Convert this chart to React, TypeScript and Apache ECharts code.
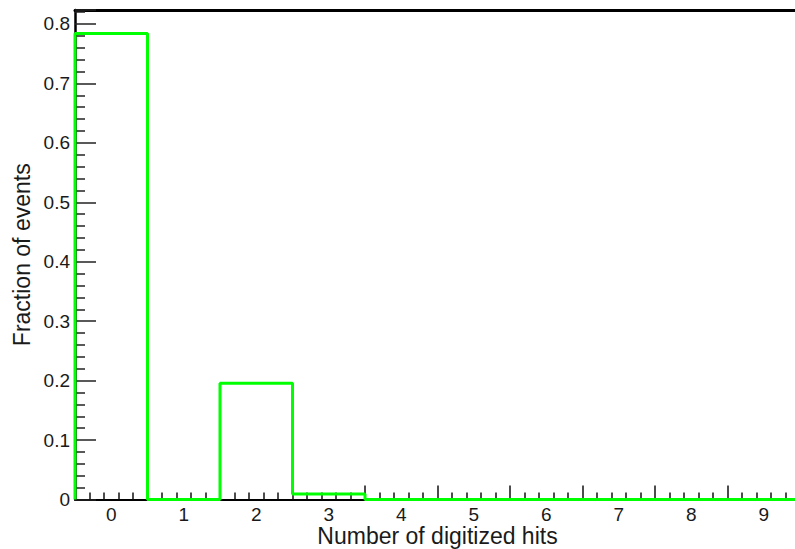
import React, { useEffect, useRef } from 'react';
import * as echarts from 'echarts';

const categories = ['0', '1', '2', '3', '4', '5', '6', '7', '8', '9'];
const fractions = [0.784, 0, 0.1955, 0.0093, 0, 0, 0, 0, 0, 0];
const xTitle = 'Number of digitized hits';
const yTitle = 'Fraction of events';
const yMax = 0.8235;

const FONT = '"Liberation Sans", Arial, sans-serif';

export default function App() {
  const ref = useRef<HTMLDivElement>(null);
  useEffect(() => {
    if (!ref.current) return;
    const chart = echarts.init(ref.current, null, { renderer: 'svg' });
    // histogram outline (bin i spans edges i .. i+1)
    const stepData: number[][] = [[0, 0]];
    fractions.forEach((v, i) => stepData.push([i, v]));
    stepData.push([fractions.length, fractions[fractions.length - 1]]);

    const yFmt = (v: number) => {
      const r = Math.round(v * 10) / 10;
      return Math.abs(v - r) < 1e-6 ? String(r) : '';
    };

    chart.setOption({
      animation: false,
      backgroundColor: '#ffffff',
      grid: { left: 75, right: -5, top: 10, bottom: 49.5, containLabel: false, outerBoundsMode: 'none' },
      xAxis: [
        {
          type: 'category',
          data: categories,
          boundaryGap: true,
          position: 'bottom',
          axisLine: { show: true, lineStyle: { color: '#000', width: 2 } },
          axisTick: { show: false },
          splitLine: { show: false },
          axisLabel: { fontSize: 19, margin: 5, color: '#1a1a1a', fontFamily: FONT },
          name: xTitle,
          nameLocation: 'middle',
          nameGap: 24.5,
          nameMoveOverlap: false,
          nameTextStyle: { fontSize: 23, lineHeight: 23, color: '#1a1a1a', fontFamily: FONT },
        },
        {
          type: 'value',
          min: 0,
          max: categories.length,
          interval: 1,
          position: 'bottom',
          axisLine: { show: false },
          axisLabel: { show: false },
          splitLine: { show: false },
          axisTick: { show: true, inside: true, length: 14, lineStyle: { color: '#111', width: 1.5 } },
          minorTick: { show: true, splitNumber: 5, length: 7, lineStyle: { color: '#111', width: 1.5 } },
        },
        {
          type: 'value',
          min: 0,
          max: categories.length,
          position: 'top',
          axisLine: { show: true, lineStyle: { color: '#000', width: 3 } },
          axisLabel: { show: false },
          axisTick: { show: false },
          splitLine: { show: false },
        },
      ],
      yAxis: {
        type: 'value',
        min: 0,
        max: yMax,
        interval: 0.1,
        axisLine: { show: true, lineStyle: { color: '#000', width: 2.5 } },
        axisTick: { show: true, inside: true, length: 21, lineStyle: { color: '#222', width: 1.5 } },
        minorTick: { show: true, splitNumber: 5, length: 10, lineStyle: { color: '#222', width: 1.5 } },
        splitLine: { show: false },
        axisLabel: { margin: 5, fontSize: 19, color: '#1a1a1a', fontFamily: FONT, formatter: yFmt },
        name: yTitle,
        nameLocation: 'middle',
        nameGap: 42,
        nameMoveOverlap: false,
        nameTextStyle: { fontSize: 23, color: '#1a1a1a', fontFamily: FONT },
      },
      series: [
        {
          type: 'line',
          xAxisIndex: 1,
          yAxisIndex: 0,
          data: stepData,
          step: 'end',
          symbol: 'none',
          showSymbol: false,
          clip: false,
          silent: true,
          lineStyle: { color: '#00ff00', width: 3 },
          z: 5,
        },
      ],
    });
    return () => chart.dispose();
  }, []);
  return (
    <div
      ref={ref}
      style={{ position: 'fixed', left: 0, top: 0, width: 795, height: 549 }}
    />
  );
}
